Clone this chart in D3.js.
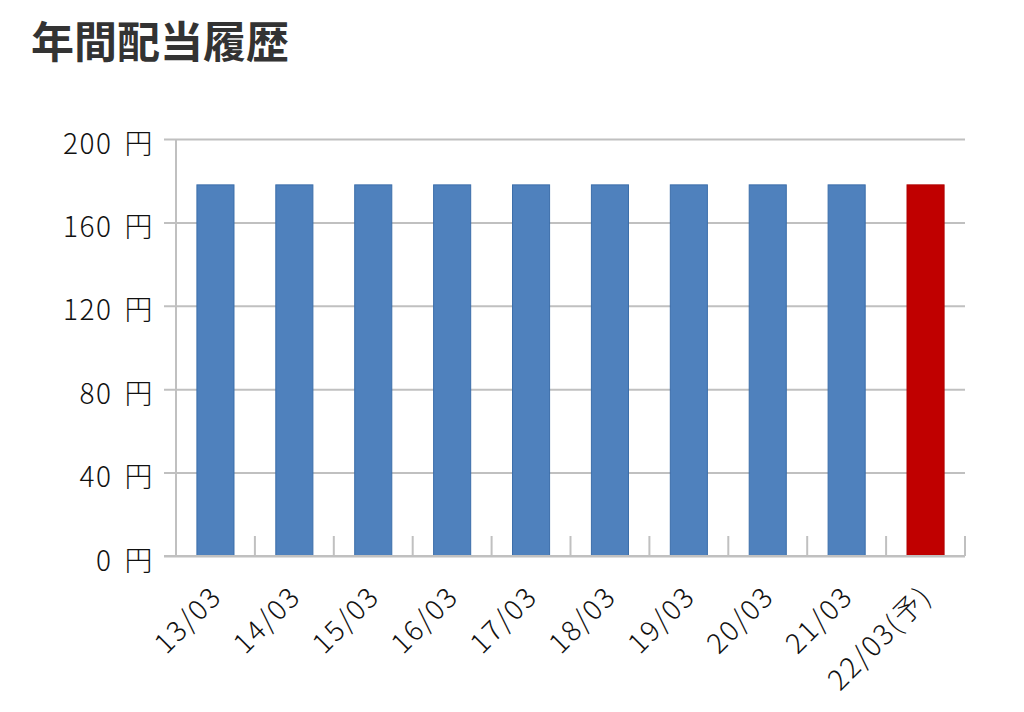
<!DOCTYPE html>
<html>
<head>
<meta charset="utf-8">
<script src="https://cdn.jsdelivr.net/npm/d3@7"></script>
<style>
  body { margin: 0; background: #fff; }
  text { font-family: "Noto Sans CJK JP", "Noto Sans", sans-serif; }
</style>
</head>
<body>
<div id="chart"></div>
<script>
// Data
const categories = ["13/03", "14/03", "15/03", "16/03", "17/03", "18/03", "19/03", "20/03", "21/03", "22/03(予)"];
const dividends = [178, 178, 178, 178, 178, 178, 178, 178, 178, 178];
const forecast = [false, false, false, false, false, false, false, false, false, true];
const yTicks = [0, 40, 80, 120, 160, 200];

const W = 1024, H = 712;
const margin = { top: 139, right: 59, bottom: 156, left: 176 };
const width = W - margin.left - margin.right;
const height = H - margin.top - margin.bottom;

const root = d3.select("#chart").append("svg")
  .attr("width", W)
  .attr("height", H);

// Title
root.append("text")
  .attr("x", 31)
  .attr("y", 58)
  .attr("font-size", 43)
  .attr("font-weight", "bold")
  .attr("fill", "#333")
  .text("年間配当履歴");

const svg = root.append("g")
  .attr("transform", "translate(" + margin.left + "," + margin.top + ")");

const x = d3.scaleBand()
  .domain(categories)
  .range([0, width])
  .paddingInner(0.53)
  .paddingOuter(0.265);

const y = d3.scaleLinear()
  .domain([0, 200])
  .range([height, 0]);

// Grid lines + y labels
const yAxis = svg.append("g")
  .call(d3.axisLeft(y).tickValues(yTicks).tickSize(-width - 12).tickFormat(""))
  .attr("transform", "translate(-12,0)");
yAxis.select(".domain").remove();
yAxis.selectAll(".tick line").attr("stroke", "#c0c0c0").attr("stroke-width", 2);

// y labels: number + 円 with a wider gap
const yLab = yAxis.selectAll(".tick text")
  .attr("x", -10)
  .attr("dy", "0.5em")
  .attr("font-size", 28)
  .attr("font-weight", 300)
  .attr("fill", "#111")
  .attr("letter-spacing", 1.5);
yLab.each(function (d) {
  const t = d3.select(this);
  t.append("tspan").text(d);
  t.append("tspan").attr("dx", 12).text("円");
});

// Vertical axis line
svg.append("line")
  .attr("x1", 0).attr("x2", 0)
  .attr("y1", 0).attr("y2", height)
  .attr("stroke", "#c0c0c0")
  .attr("stroke-width", 2);

// Category boundary ticks
const step = x.step();
svg.append("g")
  .selectAll("line")
  .data(d3.range(categories.length + 1))
  .enter().append("line")
  .attr("x1", i => i * step)
  .attr("x2", i => i * step)
  .attr("y1", height - 20)
  .attr("y2", height)
  .attr("stroke", "#c0c0c0")
  .attr("stroke-width", 2);

// Bars
svg.selectAll(".bar")
  .data(categories)
  .enter().append("rect")
  .attr("class", "bar")
  .attr("x", d => x(d))
  .attr("y", (d, i) => y(dividends[i]))
  .attr("width", x.bandwidth())
  .attr("height", (d, i) => height - y(dividends[i]))
  .attr("fill", (d, i) => forecast[i] ? "#c00000" : "#4f81bd")
  .attr("stroke", (d, i) => forecast[i] ? "#b00000" : "#3c6eaa")
  .attr("stroke-width", 1);

// Bottom axis line (drawn over bars)
svg.append("line")
  .attr("x1", -12).attr("x2", width)
  .attr("y1", height).attr("y2", height)
  .attr("stroke", "#c0c0c0")
  .attr("stroke-width", 2);

// X labels
const xAxis = svg.append("g")
  .attr("transform", "translate(0," + height + ")")
  .call(d3.axisBottom(x).tickSize(0));
xAxis.select(".domain").remove();
xAxis.selectAll(".tick text")
  .attr("font-size", 28)
  .attr("font-weight", 300)
  .attr("fill", "#111")
  .attr("letter-spacing", 2)
  .attr("text-anchor", "end")
  .attr("dy", 0)
  .attr("transform", "translate(6,40) rotate(-45)");
</script>
</body>
</html>
